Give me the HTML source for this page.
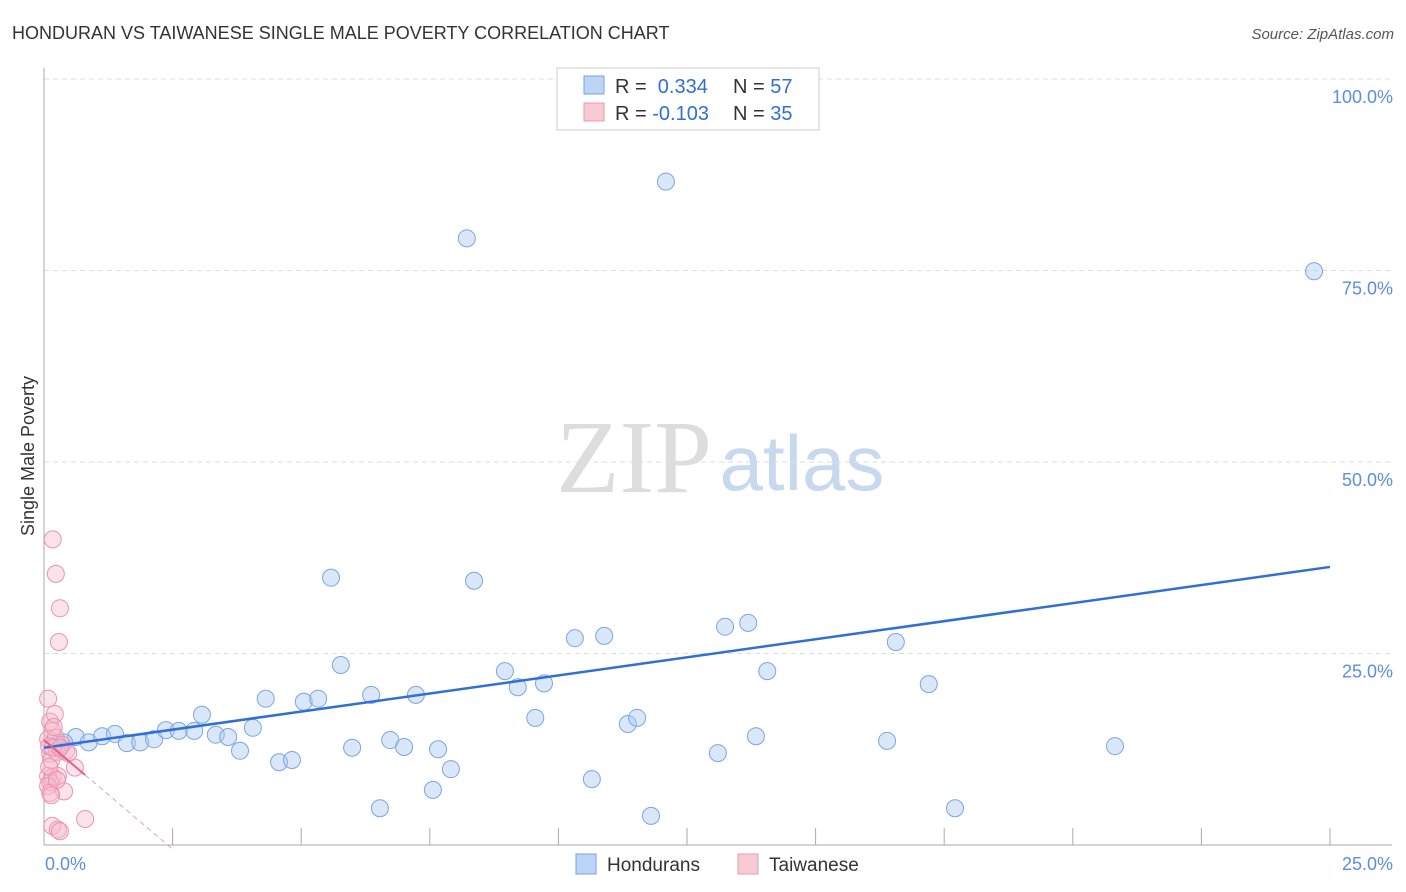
<!DOCTYPE html>
<html><head><meta charset="utf-8"><style>
body{margin:0;background:#fff;font-family:"Liberation Sans",sans-serif;}
svg{display:block}
</style></head><body>
<svg id="c" width="1406" height="892">
<text x="12" y="39" font-size="18" fill="#333">HONDURAN VS TAIWANESE SINGLE MALE POVERTY CORRELATION CHART</text>
<text x="1394" y="39" font-size="15" fill="#555" text-anchor="end" font-style="italic">Source: ZipAtlas.com</text>
<text x="34" y="456" font-size="18" fill="#333" text-anchor="middle" transform="rotate(-90 34 456)">Single Male Poverty</text>
<g><text x="634" y="492" font-size="104" fill="#ddd" text-anchor="middle" font-family="Liberation Serif,serif">ZIP</text><text x="802" y="490" font-size="78" fill="#c8d8ee" text-anchor="middle">atlas</text></g>
<g id="grid"></g><g id="axes"></g><g id="pts"></g><g id="lines"></g>
<g>
<rect x="557" y="68" width="262" height="62" fill="#fff" stroke="#ccc"/>
<rect x="584" y="76" width="20" height="18" fill="#bcd4f5" stroke="#7aa3e0"/>
<text x="615" y="93" font-size="20" fill="#333">R = <tspan fill="#2f6fd6">&#160;0.334</tspan><tspan x="733">N = </tspan><tspan fill="#2f6fd6">57</tspan></text>
<rect x="584" y="103" width="20" height="18" fill="#f9c9d6" stroke="#e79ab0"/>
<text x="615" y="120" font-size="20" fill="#333">R = <tspan fill="#2f6fd6">-0.103</tspan><tspan x="733">N = </tspan><tspan fill="#2f6fd6">35</tspan></text>
</g>
<g>
<rect x="576" y="854" width="20" height="20" fill="#bcd4f5" stroke="#7aa3e0"/>
<text x="607" y="871" font-size="19" fill="#333">Hondurans</text>
<rect x="738" y="854" width="20" height="20" fill="#f9c9d6" stroke="#e79ab0"/>
<text x="769" y="871" font-size="19" fill="#333">Taiwanese</text>
</g>
</svg>
<script>
const yTicks=[25,50,75,100];
const yTickLabels=["25.0%","50.0%","75.0%","100.0%"];
const xTicks=[2.5,5,7.5,10,12.5,15,17.5,20,22.5,25];
const honX=[0.62,0.87,1.13,1.38,1.61,1.87,2.14,2.37,2.62,2.92,3.07,3.34,3.58,3.81,4.06,4.31,4.57,4.82,5.05,5.33,5.58,5.77,5.99,6.36,6.53,6.73,7.0,7.23,7.56,7.66,7.91,8.22,8.36,8.96,9.21,9.55,9.72,10.32,10.65,10.89,11.35,11.53,11.8,12.09,13.1,13.24,13.69,13.84,14.06,16.39,16.56,17.2,17.71,20.82,24.69,0.39,0.27];
const honY=[14.1,13.4,14.2,14.5,13.3,13.4,13.8,15.0,14.9,14.9,17.0,14.4,14.1,12.3,15.3,19.1,10.8,11.1,18.7,19.1,34.9,23.5,12.7,19.6,4.8,13.7,12.8,19.6,7.2,12.5,9.9,79.2,34.5,22.7,20.6,16.6,21.1,27.0,8.6,27.3,15.8,16.6,3.8,86.6,12.0,28.5,29.0,14.2,22.7,13.6,26.5,21.0,4.8,12.9,74.9,13.4,13.1];
const taiX=[0.17,0.23,0.31,0.29,0.08,0.12,0.21,0.16,0.08,0.23,0.35,0.43,0.12,0.25,0.14,0.6,0.08,0.17,0.27,0.12,0.39,0.08,0.12,0.16,0.27,0.31,0.8,0.1,0.19,0.17,0.47,0.1,0.25,0.14,0.31];
const taiY=[39.9,35.4,30.9,26.5,19.1,16.1,17.1,14.9,13.8,14.0,13.1,12.3,11.9,12.1,11.1,10.1,9.0,8.9,9.0,8.2,7.0,7.7,6.8,2.5,2.0,1.8,3.4,12.9,15.4,12.7,12.0,10.2,8.5,6.5,12.7];
const honTrend=[12.7,36.3];
const taiTrend=[13.7,-0.55];
const X=v=>44+v*51.44, Y=v=>845-v*7.66;
const NS="http://www.w3.org/2000/svg";
function mk(tag,attrs,parent){const e=document.createElementNS(NS,tag);for(const k in attrs)e.setAttribute(k,attrs[k]);document.getElementById(parent).appendChild(e);return e;}
yTicks.forEach((t,i)=>{
 const g=mk('line',{x1:44,x2:1392,y1:Y(t),y2:Y(t),stroke:'#ddd','stroke-dasharray':'5,4'},'grid');
 
 
 const l=mk('text',{x:1393,y:Y(t)+24,'font-size':18,fill:'#5b8ee0','text-anchor':'end'},'axes');
 l.textContent=yTickLabels[i];
 
 
});
let ax=mk('line',{x1:44,x2:44,y1:68,y2:845,stroke:'#aaa'},'axes');


ax=mk('line',{x1:44,x2:1392,y1:845,y2:845,stroke:'#aaa'},'axes');


xTicks.forEach(t=>{
 const k=mk('line',{x1:X(t),x2:X(t),y1:828,y2:845,stroke:'#aaa'},'axes');
 
 
});
let tl=mk('text',{x:45,y:870,'font-size':18,fill:'#5b8ee0'},'axes');tl.textContent='0.0%';


tl=mk('text',{x:1393,y:870,'font-size':18,fill:'#5b8ee0','text-anchor':'end'},'axes');tl.textContent='25.0%';


honX.forEach((x,i)=>{
 const c=mk('circle',{cx:X(x),cy:Y(honY[i]),r:8.5,fill:'rgba(170,202,242,0.45)',stroke:'#7aa6e2','stroke-width':1},'pts');
 
 
});
taiX.forEach((x,i)=>{
 const c=mk('circle',{cx:X(x),cy:Y(taiY[i]),r:8.5,fill:'rgba(246,186,204,0.4)',stroke:'#eb92ae','stroke-width':1},'pts');
 
 
});
let tr=mk('line',{x1:X(0),y1:Y(honTrend[0]),x2:X(25),y2:Y(honTrend[1]),stroke:'#2f6fd6','stroke-width':2.5},'lines');


const sl=(taiTrend[1]-taiTrend[0])/2.5;
tr=mk('line',{x1:X(0),y1:Y(taiTrend[0]),x2:X(0.8),y2:Y(taiTrend[0]+sl*0.8),stroke:'#e4608a','stroke-width':2},'lines');


tr=mk('line',{x1:X(0.8),y1:Y(taiTrend[0]+sl*0.8),x2:X(2.5),y2:Y(taiTrend[1]),stroke:'#e4a0b8','stroke-width':1,'stroke-dasharray':'5,4'},'lines');


</script>
</body></html>
